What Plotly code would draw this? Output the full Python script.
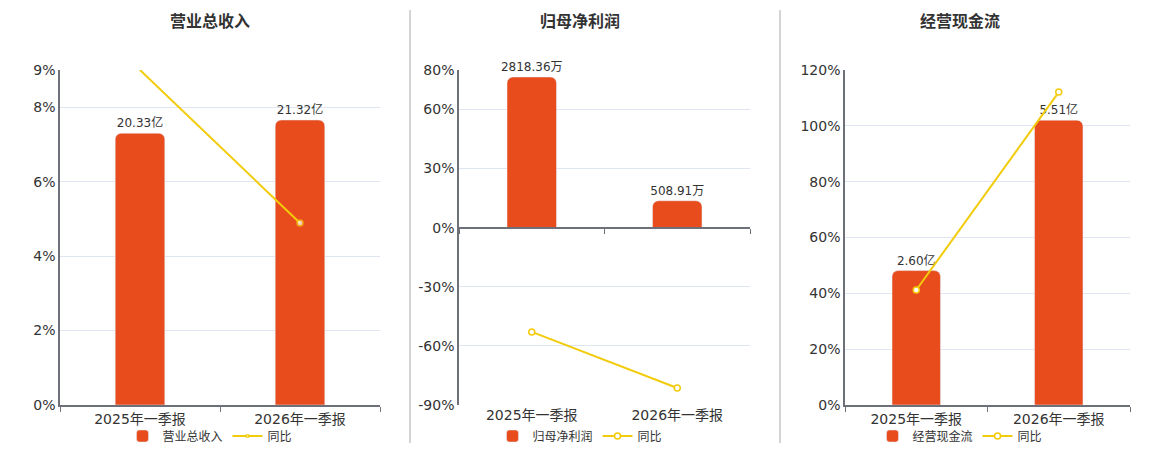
import plotly.graph_objects as go

# 数据
periods = ['2025年一季报', '2026年一季报']

revenue = [20.33, 21.32]          # 亿
revenue_yoy = [9.0, 4.89]         # %
revenue_text = ['20.33亿', '21.32亿']

profit = [2818.36, 508.91]        # 万
profit_yoy = [-52.9, -81.4]       # %
profit_text = ['2818.36万', '508.91万']

cashflow = [2.60, 5.51]           # 亿
cashflow_yoy = [41.2, 112.1]      # %
cashflow_text = ['2.60亿', '5.51亿']

titles = ['营业总收入', '归母净利润', '经营现金流']

BAR = '#E84C1D'
LINE = '#F2CC0C'
GRID = '#E0E6F1'
AXIS = '#6E7079'
TXT = '#333333'
FONT = 'DejaVu Sans, Noto Sans CJK SC'

fig = go.Figure()

y_dom = [0.1, 0.8444]
x_doms = [[60 / 1160, 380 / 1160], [459 / 1160, 750 / 1160], [845 / 1160, 1130 / 1160]]
line_x = ['x', 'x5', 'x3']
bar_w = [0.31, 0.34, 0.34]

# 柱子（底层坐标轴，隐藏）
bars = [(revenue, revenue_text), (profit, profit_text), (cashflow, cashflow_text)]
for i, (vals, txt) in enumerate(bars):
    n = i + 1
    fig.add_trace(go.Bar(
        x=periods, y=vals, name=titles[i], text=txt,
        textposition='outside', cliponaxis=False, constraintext='none',
        textfont=dict(size=12, color=TXT, family=FONT),
        marker=dict(color=BAR, cornerradius=6),
        width=bar_w[i],
        xaxis='x' if n == 1 else f'x{n}', yaxis='y' if n == 1 else f'y{n}',
        legend='legend' if n == 1 else f'legend{n}',
        hoverinfo='skip',
    ))

# 同比折线（叠加坐标轴）
lines = [revenue_yoy, profit_yoy, cashflow_yoy]
for i, vals in enumerate(lines):
    n = i + 1
    fig.add_trace(go.Scatter(
        x=periods, y=vals, name='同比', mode='lines+markers',
        line=dict(color=LINE, width=2),
        marker=dict(symbol='circle', size=[0, 6] if n == 1 else 6, color='white',
                    line=dict(color=LINE, width=1.5)),
        xaxis=line_x[i], yaxis=f'y{n + 3}',
        legend='legend' if n == 1 else f'legend{n}',
        hoverinfo='skip',
    ))

layout = dict(
    width=1160, height=450,
    margin=dict(l=0, r=0, t=0, b=0, autoexpand=False),
    paper_bgcolor='white', plot_bgcolor='white',
    font=dict(family=FONT, color=TXT, size=14),
    showlegend=True,
)

bar_ranges = [[0, 25.06], [-2949 * 177 / 158, 2949], [0, 6.48]]
line_ranges = [[0, 9], [-90, 80], [0, 120]]
line_ticks = [[0, 2, 4, 6, 8, 9], [-90, -60, -30, 0, 30, 60, 80], [0, 20, 40, 60, 80, 100, 120]]

for i in range(3):
    n = i + 1
    xk = 'xaxis' if n == 1 else f'xaxis{n}'
    yk = 'yaxis' if n == 1 else f'yaxis{n}'
    ya = 'y' if n == 1 else f'y{n}'
    xa = 'x' if n == 1 else f'x{n}'
    layout[xk] = dict(
        domain=x_doms[i], anchor=ya, type='category', range=[-0.5, 1.5],
        showline=(n != 2), linecolor=AXIS, linewidth=2,
        ticks='outside' if n != 2 else '', tickson='boundaries', ticklen=5, tickcolor=AXIS,
        tickfont=dict(size=14, color=TXT), showgrid=False, fixedrange=True,
    )
    layout[yk] = dict(
        domain=y_dom, anchor=xa, range=bar_ranges[i], visible=False, fixedrange=True,
    )
    layout[f'yaxis{n + 3}'] = dict(
        overlaying=ya, anchor=xa, side='left', range=line_ranges[i],
        tickvals=line_ticks[i], ticktext=[f'{v}%' for v in line_ticks[i]],
        showgrid=True, gridcolor=GRID, gridwidth=1,
        showline=True, linecolor=AXIS, linewidth=1.5,
        zeroline=(n == 2), zerolinecolor=AXIS, zerolinewidth=2,
        tickfont=dict(size=14, color=TXT), ticks='', fixedrange=True,
    )

# 第二张图：零轴上的刻度线
zero_pos = y_dom[0] + (y_dom[1] - y_dom[0]) * 90 / 170
layout['xaxis5'] = dict(
    overlaying='x2', anchor='free', position=zero_pos, type='category', range=[-0.5, 1.5],
    showline=True, linecolor=AXIS, linewidth=2,
    ticks='outside', tickson='boundaries', ticklen=5, tickcolor=AXIS,
    showticklabels=False, showgrid=False, fixedrange=True,
)
layout['yaxis5']['anchor'] = 'x2'

legend_x = [210 / 1160, 580 / 1160, 960 / 1160]
for i in range(3):
    n = i + 1
    lk = 'legend' if n == 1 else f'legend{n}'
    layout[lk] = dict(
        orientation='h', x=legend_x[i], y=14 / 450, xanchor='center', yanchor='middle',
        font=dict(size=12, color=TXT, family=FONT), bgcolor='rgba(0,0,0,0)',
        itemwidth=30, tracegroupgap=0,
    )

fig.update_layout(**layout)

# 标题
title_x = [210, 580, 960]
for i, t in enumerate(titles):
    fig.add_annotation(
        text=f'<b>{t}</b>', x=title_x[i] / 1160, y=1 - 22 / 450, xref='paper', yref='paper',
        showarrow=False, xanchor='center', yanchor='middle',
        font=dict(size=16, color=TXT, family=FONT),
    )

# 分隔线
for px in [410, 780]:
    fig.add_shape(type='line', xref='paper', yref='paper',
                  x0=px / 1160, x1=px / 1160, y0=7 / 450, y1=1 - 10 / 450,
                  line=dict(color='#AAAAAA', width=1))

fig.write_html("out.html", config={'displayModeBar': False},
               post_script="document.body.style.margin='0';")
